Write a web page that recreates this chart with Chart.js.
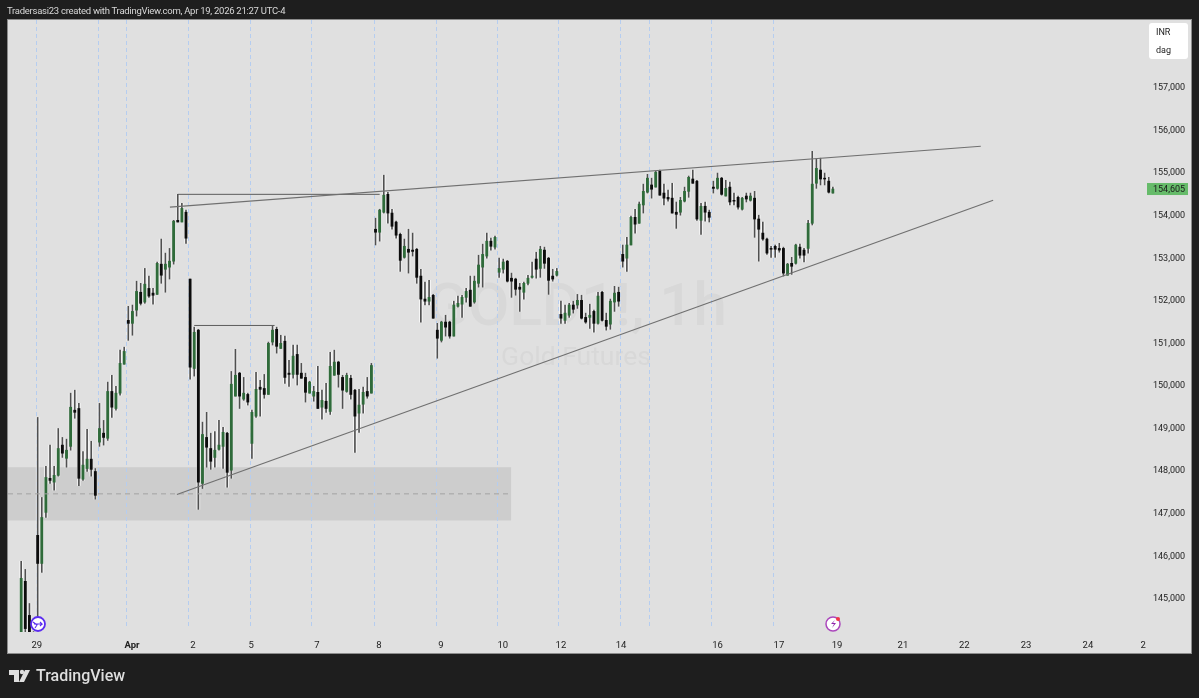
<!DOCTYPE html>
<html>
<head>
<meta charset="utf-8">
<title>GOLD1!, 1h</title>
<script src="https://cdn.jsdelivr.net/npm/chart.js@4"></script>
<style>
    html, body { margin: 0; padding: 0; background: #1e1e1e; }
    #wrap { position: relative; width: 1199px; height: 698px; overflow: hidden; font-family: Roboto, sans-serif; }
    canvas { position: absolute; left: 0; top: 0; }
    .head { position: absolute; left: 7px; top: 4px; font-size: 9.5px; letter-spacing: -0.27px; line-height: 13px; color: #d8d8d8; white-space: nowrap; }
    .unit { position: absolute; left: 1149px; top: 23px; width: 39px; height: 36px; background: #fff; border-radius: 3px; font-size: 9px; color: #222; }
    .unit span { position: absolute; left: 7px; }
    .brand { position: absolute; left: 36px; top: 665px; font-size: 16px; line-height: 22px; font-weight: 500; color: #dedede; }
    svg { position: absolute; left: 0; top: 0; }
</style>
</head>
<body>
<div id="wrap">
    <canvas id="goldChart" width="1199" height="698"></canvas>
    <svg width="1199" height="698">
        <circle cx="38" cy="624" r="7" fill="#fff" stroke="#5b2cf0" stroke-width="1.8"/>
        <path d="M33 622l4 3-2 3M34 624h8l-2-2m2 2l-2 2" fill="none" stroke="#5b2cf0" stroke-width="1.1"/>
        <circle cx="833" cy="624" r="7" fill="#fff" stroke="#ab47bc" stroke-width="1.5"/>
        <path d="M835 620l-4 4h3l-2 4 4-5h-3z" fill="#8e24aa"/>
        <circle cx="838" cy="619" r="2" fill="#f23645"/>
        <path d="M9 670h10v12h-5v-7h-5z M30 670l-6 12h-5l6-12z" fill="#dedede"/>
        <circle cx="22" cy="672" r="2.2" fill="#dedede"/>
    </svg>
    <div class="head">Tradersasi23 created with TradingView.com, Apr 19, 2026 21:27 UTC-4</div>
    <div class="unit"><span style="top:4px">INR</span><span style="top:22px">dag</span></div>
    <div class="brand">TradingView</div>
</div>
<script>
// -------------------------------
// DATA (1h candles)
// -------------------------------
const opens = [
    144170,145390,144590,144180,146470,145810,147010,147810,147720,147880,148590,148280,148560,149410,149450,147790,148040,148260,147970,
    148660,148870,148750,149850,149450,149810,150490,151520,151450,151760,152180,151950,152270,152160,152130,152840,152720,152770,152910,153870,153830,154060,
    152490,150390,151290,147690,148770,148510,148300,148490,148560,148870,148000,149740,150280,149670,149780,148630,149270,149950,149920,149780,151010,151310,150860,151030,150280,150250,150720,150280,150180,149810,149740,149830,149480,149620,149380,150230,150540,150180,149850,150160,149880,149340,149550,149850,149810,
    153660,153590,154060,154480,154040,153830,153540,153000,153190,153170,153190,152560,152020,151970,152110,151290,151050,151480,151480,151150,151850,151900,152060,152230,151950,152390,152770,153030,153380,153240,
    152650,152720,152910,152510,152490,152300,152180,152390,152530,152960,152740,153170,152980,152560,152580,
    151660,151520,151640,151880,151880,151990,151590,151590,151730,151450,152180,151520,151430,151950,152180,
    153070,152980,153290,153940,153800,154230,154530,154700,154650,155020,154510,154410,154390,154060,154060,154320,154550,154840,
    154790,153870,154200,154060,154650,154620,154860,154440,154650,154340,154410,154130,154440,154340,154390,153900,153570,153430,153210,153260,153210,153210,152580,152860,152860,153240,153170,153210,153800,154740,155050,154860,154790,154510
];
const highs = [
    145860,145670,144870,144210,149240,147360,148090,148590,148090,148980,148770,148730,149810,149880,149570,148440,148960,148680,148040,
    149570,149170,150070,150230,149970,150820,150890,151850,151880,152440,152390,152740,152560,152270,152890,153430,153100,153210,153870,154480,154270,154110,
    152490,151360,151310,149130,149360,148870,148910,149170,149010,148890,150320,150840,150300,150180,149810,149410,150300,150110,150250,151010,151380,151360,151170,151150,150580,150940,150940,150510,150280,150090,149970,150440,149880,150040,150770,150820,150560,150230,150280,150230,149900,149900,149950,150180,150510,
    153920,154130,154930,154530,154130,153850,153570,153430,153660,153570,153210,152720,152420,152460,152130,151450,151500,151640,151500,151970,152090,152110,152270,152560,152560,153050,153310,153570,153450,153500,
    152980,152960,152930,152630,152510,152390,152420,152580,152890,153120,153260,153240,153000,152720,152740,
    151970,151880,151920,151970,152130,152110,151690,151900,151760,152180,152200,151690,152020,152320,152300,
    153290,153470,153970,154130,154300,154720,154950,154860,155020,155050,154720,154580,154740,154300,154410,154650,154910,155050,
    154810,154270,154300,154110,154790,154980,154880,154810,154770,154510,154440,154410,154510,154510,154550,153990,153830,153450,153260,153290,153330,153240,152860,153000,153310,153310,153210,153870,155490,155310,155330,154980,154880,154650
];
const lows = [
    144150,144190,144150,144080,144400,145600,146890,147690,147530,147860,148300,148070,148470,149220,147640,147760,147970,147860,147320,
    148560,148590,148700,149240,149410,149760,150490,151050,151170,151620,151880,151920,152060,151900,152130,152390,152180,152490,152840,153830,153830,153330,
    150140,150210,147080,147570,148070,148020,148070,148470,148040,147600,147810,149740,149450,149640,149530,148280,149240,149270,149690,149780,150940,150750,150860,150040,149970,150160,150000,150160,149600,149810,149620,149450,149200,149360,149310,150230,149950,149450,149830,149670,148420,148890,149340,149690,149810,
    153290,153380,154040,153800,153660,153450,152670,152980,152630,153030,152390,151480,151880,151880,151570,150630,151010,151150,151100,151150,151830,151590,151950,151850,151920,152300,152300,152980,153170,153190,
    152530,152630,152420,152060,152110,151730,152020,152350,152510,152510,152530,152740,152130,152440,152560,
    151450,151450,151590,151690,151800,151550,151450,151330,151240,151430,151500,151290,151310,151730,151850,
    152770,152670,153290,153570,153800,154040,154510,154390,154650,154460,154230,154320,154040,153680,153990,154300,154410,154740,
    153870,153540,153850,153830,154510,154600,154460,154440,154230,154230,154130,154110,154300,154320,153470,152910,153400,153070,153000,153000,153120,152560,152580,152600,152840,152980,152890,153100,153760,154620,154700,154700,154510,154510
];
const closes = [
    145460,144280,144170,144120,145810,146890,147830,147760,147880,148510,148400,148470,149480,149360,147810,148120,148260,148020,147410,
    148980,148770,149850,149480,149810,150510,150790,151450,151730,152200,151920,152370,152090,152110,152860,152580,152840,152910,153850,153830,154150,153450,
    150420,151240,147720,148840,148540,148210,148470,148590,148890,147950,150020,150230,149740,149810,149600,149360,149900,149900,149780,150980,151290,150910,150980,150180,150250,150680,150250,150160,149830,150070,149850,149450,149640,149450,150440,150540,150250,149880,150230,149780,149270,149530,149830,149740,150460,
    153590,154110,154460,154040,153730,153520,152930,153260,153120,153140,152530,152020,151970,152060,151570,151100,151480,151360,151150,151880,151920,152060,152200,151850,152440,152820,153070,153380,153260,153470,
    152740,152890,152440,152440,152250,152250,152390,152510,152560,152720,153190,152860,152460,152490,152670,
    151570,151690,151880,151780,151990,151570,151480,151640,151450,152090,151520,151380,151970,152160,151970,
    152910,153290,153940,153780,154250,154550,154860,154600,155000,154460,154390,154370,154040,154010,154340,154550,154880,154740,
    153900,154200,154060,153940,154620,154860,154480,154620,154300,154320,154180,154390,154370,154440,153900,153660,153430,153100,153190,153190,153170,152630,152840,152790,153290,153050,153050,153800,154720,155090,154840,154840,154530,154605
];

// axis labels, x values are bar numbers
const dateLabels = ['29','Apr','2','5','7','8','9','10','12','14','16','17','19','21','22','23','24','2'];
const dateBars = [3.8,26.9,41.7,55.8,71.8,86.8,101.9,116.9,131,145.6,169,183.9,198,214,228.9,243.9,258.9,272.3];
const priceTicks = [145000,146000,147000,148000,149000,150000,151000,152000,153000,154000,155000,156000,157000];
const sessionBars = [3.7,18.6,25.5,40.5,55.6,70.4,85.6,100.6,115.5,130.3,145.3,152.4,167.4,182.4];

// drawings on the chart
const upperTrendBars = [36.1,232.9];
const upperTrendPrices = [154180,155610];
const lowerTrendBars = [37.8,235.9];
const lowerTrendPrices = [147430,154340];
const highStepBars = [38,87];
const highStepPrices = [154480,154480];
const midStepBars = [42,61.5];
const midStepPrices = [151400,151400];
const zoneBars = [-3.2,118.9];
const zonePrices = [146820,148070];
const zoneMidPrice = 147445;
const lastPrice = 154605;

const GREEN = '#2f6b3a';
const BLACK = '#0c0c0c';
const FONT = 'Roboto, sans-serif';

const bars = opens.map((o, i) => i);
const isUp = i => closes[i] >= opens[i];

function toPoints(xs, ys) {
    return xs.map((x, i) => ({ x: x, y: ys[i] }));
}

function trendLine(xs, ys, color, width, dash) {
    return {
        type: 'line',
        data: toPoints(xs, ys),
        borderColor: color,
        borderWidth: width,
        borderDash: dash || [],
        pointRadius: 0,
        tension: 0,
        order: 0
    };
}

// -------------------------------
// PLUGIN: panel, watermark, zone, session lines, last price
// -------------------------------
const backdrop = {
    id: 'backdrop',
    beforeDraw(chart) {
        const ctx = chart.ctx;
        ctx.save();
        ctx.fillStyle = '#e0e0e0';
        ctx.strokeStyle = '#8c8c8c';
        ctx.fillRect(7.5, 19.5, 1184, 634);
        ctx.strokeRect(7.5, 19.5, 1184, 634);
        ctx.restore();
    },
    beforeDatasetsDraw(chart) {
        const ctx = chart.ctx;
        const x = chart.scales.x;
        const y = chart.scales.y;
        const area = chart.chartArea;
        ctx.save();

        ctx.textAlign = 'center';
        ctx.textBaseline = 'middle';
        ctx.fillStyle = '#d8d8d8';
        ctx.font = '500 60px ' + FONT;
        ctx.fillText('GOLD1!, 1h', 577, 310);
        ctx.font = '26.5px ' + FONT;
        ctx.fillText('Gold Futures', 576, 358);

        const zoneTop = y.getPixelForValue(zonePrices[1]);
        const zoneBottom = y.getPixelForValue(zonePrices[0]);
        const zoneLeft = x.getPixelForValue(zoneBars[0]);
        const zoneRight = x.getPixelForValue(zoneBars[1]);
        ctx.fillStyle = '#cdcdcd';
        ctx.fillRect(zoneLeft, zoneTop, zoneRight - zoneLeft, zoneBottom - zoneTop);

        ctx.strokeStyle = '#b5cdf0';
        ctx.lineWidth = 1;
        ctx.setLineDash([4, 3]);
        sessionBars.forEach(b => {
            const px = Math.round(x.getPixelForValue(b)) + 0.5;
            ctx.beginPath();
            ctx.moveTo(px, area.top);
            ctx.lineTo(px, area.bottom - 3);
            ctx.stroke();
        });
        ctx.restore();
    },
    afterDraw(chart) {
        const ctx = chart.ctx;
        const py = chart.scales.y.getPixelForValue(lastPrice);
        ctx.save();
        ctx.fillStyle = '#66bb6a';
        ctx.fillRect(1147, py - 6, 41, 12);
        ctx.fillStyle = '#1a1a1a';
        ctx.font = '9px ' + FONT;
        ctx.textBaseline = 'middle';
        ctx.textAlign = 'left';
        ctx.fillText(lastPrice.toLocaleString('en-US'), 1153, py + 0.5);
        ctx.restore();
    }
};

// -------------------------------
// CHART
// -------------------------------
new Chart(document.getElementById('goldChart'), {
    data: {
        datasets: [
            trendLine(upperTrendBars, upperTrendPrices, '#707070', 1.2),
            trendLine(lowerTrendBars, lowerTrendPrices, '#707070', 1.2),
            trendLine(highStepBars, highStepPrices, '#5c5c5c', 1),
            trendLine(midStepBars, midStepPrices, '#5c5c5c', 1),
            trendLine(zoneBars, [zoneMidPrice, zoneMidPrice], '#a3a3a3', 1, [5, 4]),
            {
                type: 'bar',
                data: bars.map(i => ({ x: i, y: [Math.min(opens[i], closes[i]), Math.max(opens[i], closes[i])] })),
                backgroundColor: bars.map(i => isUp(i) ? GREEN : BLACK),
                barThickness: 2.2,
                grouped: false,
                order: 1
            },
            {
                type: 'bar',
                data: bars.map(i => ({ x: i, y: [lows[i], highs[i]] })),
                backgroundColor: '#505050',
                barThickness: 1,
                grouped: false,
                order: 2
            },
            {
                type: 'bar',
                data: bars.map(i => ({ x: i, y: [lows[i], highs[i]] })),
                backgroundColor: 'rgba(255,255,255,0.7)',
                barThickness: 3,
                grouped: false,
                order: 3
            }
        ]
    },
    options: {
        responsive: false,
        animation: false,
        layout: { padding: { left: 8, top: 20, right: 8, bottom: 45 } },
        plugins: { legend: { display: false }, tooltip: { enabled: false } },
        scales: {
            x: {
                type: 'linear',
                offset: false,
                min: -3.2,
                max: 273,
                grid: { display: false, drawTicks: false },
                border: { display: false },
                afterBuildTicks(scale) { scale.ticks = dateBars.map(v => ({ value: v })); },
                afterFit(scale) { scale.height = 21; },
                ticks: {
                    autoSkip: false,
                    maxRotation: 0,
                    padding: 8,
                    color: '#222',
                    font: ctx => ({ family: FONT, size: 9.5, weight: dateLabels[ctx.index] === 'Apr' ? '700' : '400' }),
                    callback: (value, index) => dateLabels[index]
                }
            },
            y: {
                type: 'linear',
                position: 'right',
                min: 144200,
                max: 158575,
                grid: { display: false, drawTicks: false },
                border: { display: false },
                afterBuildTicks(scale) { scale.ticks = priceTicks.map(v => ({ value: v })); },
                afterFit(scale) { scale.width = 45; },
                ticks: {
                    padding: 7,
                    labelOffset: 1,
                    color: '#222',
                    font: { family: FONT, size: 9 },
                    callback: value => value.toLocaleString('en-US')
                }
            }
        }
    },
    plugins: [backdrop]
});
</script>
</body>
</html>
